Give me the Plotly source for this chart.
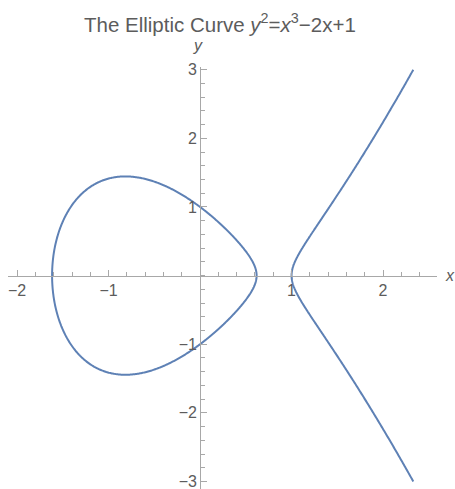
import numpy as np
import plotly.graph_objects as go

# Curve y^2 = x^3 + A*x + B
COEF_A = -2.0
COEF_B = 1.0
Y_LIMIT = 3.0          # branch drawn for |y| <= 3

X_RANGE = [-2.1, 2.59]
Y_RANGE = [-3.11, 3.04]
X_TICKS = [-2, -1, 1, 2]
Y_TICKS = [-3, -2, -1, 1, 2, 3]
TITLE = "The Elliptic Curve <i>y</i><sup>2</sup>=<i>x</i><sup>3</sup>\u22122x+1"

CURVE_COLOR = "#5E81B5"
AXIS_COLOR = "#a8a8a8"
TEXT_COLOR = "#5c5c5c"
FONT = "Liberation Sans, Arial, sans-serif"


def f(x):
    return x ** 3 + COEF_A * x + COEF_B


roots = np.sort(np.roots([1, 0, COEF_A, COEF_B]).real)
r1, r2, r3 = roots

# Bounded oval between the two smaller roots
t = np.linspace(0, 2 * np.pi, 721)
mid, half = (r1 + r2) / 2, (r2 - r1) / 2
ox = mid + half * np.cos(t)
oy = np.sign(np.sin(t)) * np.sqrt(np.clip(f(ox), 0, None))

# Unbounded branch from the largest root up to |y| = Y_LIMIT
x_end = max(np.roots([1, 0, COEF_A, COEF_B - Y_LIMIT ** 2]).real)
u = np.linspace(-1, 1, 601)
bx = r3 + (x_end - r3) * u ** 2
by = np.sign(u) * np.sqrt(np.clip(f(bx), 0, None))

fig = go.Figure()
for xs, ys in [(ox, oy), (bx, by)]:
    fig.add_trace(go.Scatter(x=xs, y=ys, mode="lines",
                             line=dict(color=CURVE_COLOR, width=2, simplify=False),
                             hoverinfo="skip", showlegend=False))

y_pos = (0 - Y_RANGE[0]) / (Y_RANGE[1] - Y_RANGE[0])
x_pos = (0 - X_RANGE[0]) / (X_RANGE[1] - X_RANGE[0])


def fmt(v):
    return str(v).replace("-", "\u2212")


axis_common = dict(showline=True, linecolor=AXIS_COLOR, linewidth=1,
                   showgrid=False, zeroline=False, ticklabeloverflow="allow",
                   ticks="inside", ticklen=6, tickcolor=AXIS_COLOR, tickwidth=1,
                   tickfont=dict(size=16, color=TEXT_COLOR, family=FONT),
                   minor=dict(dtick=0.2, tick0=0, ticks="inside", ticklen=3.5,
                              tickcolor=AXIS_COLOR, showgrid=False))

fig.update_xaxes(range=X_RANGE, anchor="free", position=y_pos, side="bottom",
                 tickvals=X_TICKS, ticktext=[fmt(v) for v in X_TICKS], **axis_common)
fig.update_yaxes(range=Y_RANGE, anchor="free", position=x_pos, side="left",
                 tickvals=Y_TICKS, ticktext=[fmt(v) for v in Y_TICKS], **axis_common)

fig.add_annotation(text=TITLE, xref="paper", yref="paper", x=(220 - 8) / 429.5,
                   y=1 + (66.5 - 22) / 422.5, showarrow=False, xanchor="center", yanchor="middle",
                   font=dict(size=20.5, color=TEXT_COLOR, family=FONT))
fig.add_annotation(text="<i>y</i>", xref="x", yref="paper", x=-0.02,
                   y=1 + (66.5 - 45) / 422.5, showarrow=False, xanchor="center", yanchor="middle",
                   font=dict(size=16, color=TEXT_COLOR, family=FONT))
fig.add_annotation(text="<i>x</i>", xref="paper", yref="y", x=1 + (451 - 437.5) / 429.5,
                   y=0, showarrow=False, xanchor="center", yanchor="middle",
                   font=dict(size=16, color=TEXT_COLOR, family=FONT))

fig.update_layout(width=455, height=489, autosize=False,
                  margin=dict(l=8, r=17.5, t=66.5, b=0, pad=0),
                  plot_bgcolor="white", paper_bgcolor="white",
                  font=dict(family=FONT, color=TEXT_COLOR))

fig.write_html("out.html", config={"displayModeBar": False})
